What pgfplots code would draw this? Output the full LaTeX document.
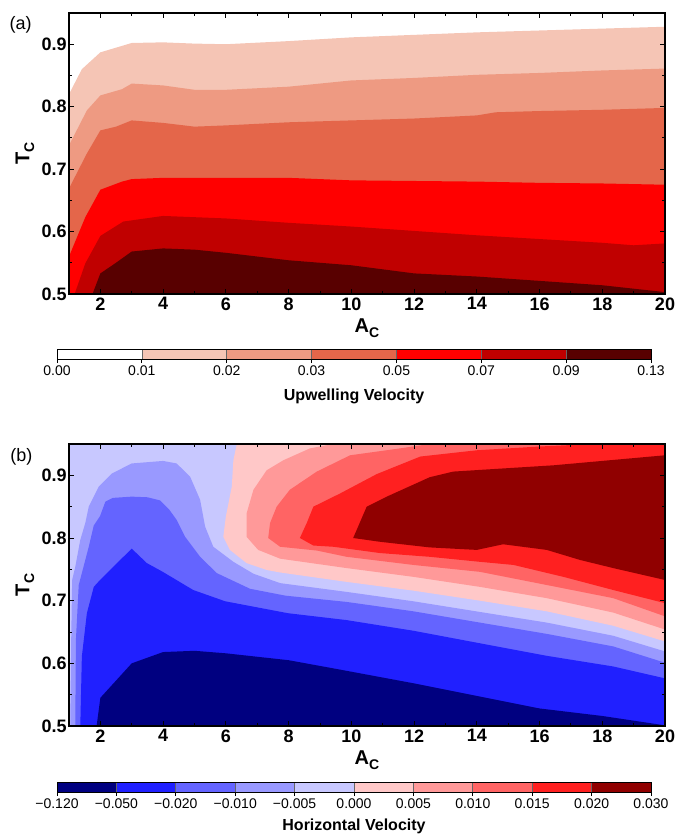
\documentclass[border=0pt]{standalone}
\usepackage{fontspec}
\setmainfont{Liberation Sans}
\usepackage{pgfplots}
\pgfplotsset{compat=1.18}

% upwelling velocity levels
\definecolor{ua0}{HTML}{FFFFFF}
\definecolor{ua1}{HTML}{F5C5B5}
\definecolor{ua2}{HTML}{EE9A82}
\definecolor{ua3}{HTML}{E4664A}
\definecolor{ua4}{HTML}{FF0000}
\definecolor{ua5}{HTML}{C00000}
\definecolor{ua6}{HTML}{580000}
% horizontal velocity levels
\definecolor{hb1}{HTML}{000080}
\definecolor{hb2}{HTML}{2020FF}
\definecolor{hb3}{HTML}{6464FF}
\definecolor{hb4}{HTML}{9999FF}
\definecolor{hb5}{HTML}{C8C8FF}
\definecolor{hr1}{HTML}{FFC8C8}
\definecolor{hr2}{HTML}{FF9999}
\definecolor{hr3}{HTML}{FF6464}
\definecolor{hr4}{HTML}{FF2020}
\definecolor{hr5}{HTML}{900000}

\pgfplotsset{
  contourpanel/.style={
    anchor=north west, scale only axis, width=447pt,
    xmin=1, xmax=20, ymin=0.5, ymax=0.95,
    xtick={2,4,...,20}, minor xtick={1,3,...,19},
    ytick={0.5,0.6,0.7,0.8,0.9}, minor ytick={0.55,0.65,0.75,0.85},
    tick align=inside, major tick length=4pt, minor tick length=2.5pt,
    tick style={black, line width=0.6pt},
    axis on top, axis line style={line width=0.9pt},
    tick label style={font=\fontsize{13.5}{15}\selectfont\bfseries},
    /pgf/number format/assume math mode=true,
    yticklabel style={inner xsep=1.5pt, /pgf/number format/fixed, /pgf/number format/precision=1},
    xticklabel style={inner ysep=2.5pt},
    xlabel={A\raisebox{-0.45ex}{\fontsize{10.5}{10}\selectfont C}},
    xlabel style={font=\fontsize{15}{16}\selectfont\bfseries,
      at={(axis description cs:0.5,0)}, anchor=center, yshift=-25.5pt},
    ylabel={T\raisebox{-0.45ex}{\fontsize{10.5}{10}\selectfont C}},
    ylabel style={font=\fontsize{15}{16}\selectfont\bfseries,
      at={(axis description cs:-0.074,0.5)}, anchor=center},
  },
  region/.style={draw=none, fill=#1, forget plot},
  colorbarbox/.style={
    anchor=north west, scale only axis, width=445.5pt, height=7.5pt,
    xmin=0, ymin=0, ymax=1, ytick=\empty,
    xtick pos=left, tick align=outside, major tick length=3pt,
    tick style={black, line width=0.6pt},
    xmajorgrids, grid style={black!60, line width=0.5pt},
    axis on top, axis line style={line width=0.7pt},
    xticklabel style={font=\fontsize{10.5}{12}\selectfont, inner ysep=1.5pt},
    xlabel style={font=\fontsize{12}{14}\selectfont\bfseries,
      at={(axis description cs:0.5,0)}, anchor=center, yshift=-28pt},
  },
}

\begin{document}
\begin{tikzpicture}
\useasboundingbox (0,0) rectangle (507.75pt,-629.25pt);

% ---------------- (a) upwelling velocity ----------------
\begin{axis}[contourpanel, at={(51.75pt,-9.75pt)}, height=210.75pt]
\addplot[region=ua1] coordinates {(1,0.820)(1.41,0.860)(2.0,0.887)(3.0,0.902)(4.0,0.903)(5,0.901)(6,0.900)(8,0.905)(10,0.911)(12,0.915)(14,0.919)(16,0.922)(18,0.925)(20,0.928)(20,0.5)(1,0.5)} --cycle;
\addplot[region=ua2] coordinates {(1,0.738)(1.57,0.794)(2.0,0.818)(2.69,0.828)(3,0.837)(4,0.834)(5,0.827)(6,0.827)(8,0.832)(10,0.842)(12,0.846)(14,0.851)(16,0.854)(18,0.858)(20,0.861)(20,0.5)(1,0.5)} --cycle;
\addplot[region=ua3] coordinates {(1,0.669)(1.57,0.725)(2.0,0.762)(2.5,0.768)(3,0.778)(4,0.774)(5,0.768)(6,0.770)(8,0.775)(10,0.778)(12,0.781)(14,0.786)(14.6,0.791)(16,0.793)(18,0.795)(20,0.798)(20,0.5)(1,0.5)} --cycle;
\addplot[region=ua4] coordinates {(1,0.560)(1.52,0.623)(2,0.667)(2.69,0.680)(3,0.684)(4,0.686)(6,0.686)(8,0.686)(10,0.682)(12,0.681)(14,0.680)(16,0.678)(18,0.677)(20,0.675)(20,0.5)(1,0.5)} --cycle;
\addplot[region=ua5] coordinates {(1.18,0.5)(1.52,0.549)(2,0.593)(2.73,0.616)(4,0.625)(6,0.621)(8,0.614)(10,0.608)(12,0.601)(14,0.594)(16,0.588)(18,0.582)(19,0.578)(20,0.581)(20,0.5)} --cycle;
\addplot[region=ua6] coordinates {(1.75,0.5)(2.0,0.533)(2.47,0.549)(3,0.568)(4,0.573)(5,0.571)(6,0.566)(8,0.554)(10,0.546)(12,0.533)(14,0.528)(16,0.521)(18,0.514)(20,0.503)(20,0.5)} --cycle;
\end{axis}
\node[font=\fontsize{13.5}{15}\selectfont] at (15.4pt,-18.75pt) {(a)};

\begin{axis}[colorbarbox, at={(42.75pt,-261.75pt)}, xmax=7,
  xtick={0,...,7},
  xticklabels={0.00,0.01,0.02,0.03,0.05,0.07,0.09,0.13},
  xlabel={Upwelling Velocity}]
\addplot[region=ua0] coordinates {(0,0)(1,0)(1,1)(0,1)} --cycle;
\addplot[region=ua1] coordinates {(1,0)(2,0)(2,1)(1,1)} --cycle;
\addplot[region=ua2] coordinates {(2,0)(3,0)(3,1)(2,1)} --cycle;
\addplot[region=ua3] coordinates {(3,0)(4,0)(4,1)(3,1)} --cycle;
\addplot[region=ua4] coordinates {(4,0)(5,0)(5,1)(4,1)} --cycle;
\addplot[region=ua5] coordinates {(5,0)(6,0)(6,1)(5,1)} --cycle;
\addplot[region=ua6] coordinates {(6,0)(7,0)(7,1)(6,1)} --cycle;
\end{axis}

% ---------------- (b) horizontal velocity ----------------
\begin{axis}[contourpanel, at={(51.75pt,-333pt)}, height=211.5pt]
\addplot[region=hb5] coordinates {(1,0.5)(20,0.5)(20,0.95)(1,0.95)} --cycle;
\addplot[region=hb4] coordinates {(1.04,0.5)(1.07,0.637)(1.1,0.733)(1.2,0.754)(1.36,0.797)(1.52,0.824)(1.63,0.850)(1.95,0.882)(2.37,0.903)(3.0,0.919)(4.0,0.923)(4.43,0.919)(4.86,0.898)(5.18,0.861)(5.34,0.818)(5.6,0.786)(6.24,0.762)(6.88,0.743)(7.73,0.728)(9.85,0.714)(11.98,0.699)(14.1,0.682)(16.23,0.665)(18.35,0.644)(20,0.619)(20,0.5)} --cycle;
\addplot[region=hb3] coordinates {(1.2,0.5)(1.22,0.637)(1.31,0.725)(1.41,0.744)(1.63,0.786)(1.79,0.820)(1.99,0.835)(2.16,0.858)(2.4,0.864)(3.0,0.866)(3.5,0.865)(3.9,0.860)(4.2,0.845)(4.43,0.829)(4.7,0.802)(5.18,0.770)(5.71,0.744)(6.77,0.719)(7.9,0.708)(9.85,0.698)(11.98,0.683)(14.1,0.665)(16.23,0.647)(18.35,0.627)(20,0.601)(20,0.5)} --cycle;
\addplot[region=hb2] coordinates {(1.36,0.5)(1.41,0.611)(1.57,0.680)(1.79,0.722)(1.99,0.733)(2.41,0.754)(3.0,0.783)(3.48,0.760)(3.99,0.746)(4.96,0.717)(5.98,0.699)(7.98,0.680)(9.85,0.669)(11.98,0.652)(14.1,0.632)(16.23,0.612)(18.35,0.595)(20,0.576)(20,0.5)} --cycle;
\addplot[region=hb1] coordinates {(1.88,0.5)(2.0,0.545)(3.0,0.600)(4.0,0.618)(5.0,0.620)(6.0,0.616)(8.0,0.605)(9.64,0.590)(12,0.568)(14,0.548)(16,0.528)(18,0.516)(20,0.501)(20,0.5)} --cycle;
\addplot[region=hr1] coordinates {(6.35,0.95)(6.24,0.924)(6.19,0.882)(6.0,0.834)(5.92,0.802)(6.13,0.781)(6.66,0.760)(7.3,0.749)(7.73,0.745)(9.85,0.730)(11.98,0.716)(14.1,0.700)(16.23,0.683)(18.35,0.660)(20,0.635)(20,0.95)} --cycle;
\addplot[region=hr2] coordinates {(9.42,0.95)(8.68,0.943)(7.83,0.924)(7.30,0.908)(6.88,0.877)(6.66,0.839)(6.66,0.802)(7.03,0.781)(7.73,0.767)(9.85,0.752)(11.98,0.738)(14.1,0.722)(16.23,0.704)(18.35,0.681)(20,0.654)(20,0.95)} --cycle;
\addplot[region=hr3] coordinates {(12.5,0.95)(11.55,0.943)(9.96,0.932)(8.9,0.906)(8.04,0.877)(7.62,0.850)(7.41,0.824)(7.35,0.800)(7.73,0.786)(8.9,0.780)(9.85,0.770)(11.98,0.757)(14.1,0.746)(16.23,0.725)(18.35,0.704)(20,0.675)(20,0.95)} --cycle;
\addplot[region=hr4] coordinates {(17.7,0.95)(16,0.946)(14,0.940)(12.2,0.930)(10.81,0.902)(9.64,0.871)(8.79,0.850)(8.58,0.824)(8.36,0.800)(8.79,0.788)(9.43,0.786)(10.91,0.776)(12.5,0.770)(14.1,0.762)(15.17,0.757)(16.76,0.738)(18.35,0.717)(20,0.696)(20,0.95)} --cycle;
\addplot[region=hr5] coordinates {(10.06,0.800)(10.49,0.850)(11.13,0.866)(12.5,0.897)(13.25,0.906)(16.44,0.916)(20,0.932)(20,0.733)(18.35,0.752)(17.29,0.765)(16.23,0.781)(14.84,0.790)(14.0,0.781)(12.5,0.785)(10.91,0.794)} --cycle;
\end{axis}
\node[font=\fontsize{13.5}{15}\selectfont] at (16.1pt,-342.4pt) {(b)};

\begin{axis}[colorbarbox, at={(42.75pt,-586.5pt)}, xmax=10,
  xtick={0,...,10},
  xticklabels={−0.120,−0.050,−0.020,−0.010,−0.005,0.000,0.005,0.010,0.015,0.020,0.030},
  xlabel={Horizontal Velocity},
  xlabel style={yshift=2.5pt}]
\addplot[region=hb1] coordinates {(0,0)(1,0)(1,1)(0,1)} --cycle;
\addplot[region=hb2] coordinates {(1,0)(2,0)(2,1)(1,1)} --cycle;
\addplot[region=hb3] coordinates {(2,0)(3,0)(3,1)(2,1)} --cycle;
\addplot[region=hb4] coordinates {(3,0)(4,0)(4,1)(3,1)} --cycle;
\addplot[region=hb5] coordinates {(4,0)(5,0)(5,1)(4,1)} --cycle;
\addplot[region=hr1] coordinates {(5,0)(6,0)(6,1)(5,1)} --cycle;
\addplot[region=hr2] coordinates {(6,0)(7,0)(7,1)(6,1)} --cycle;
\addplot[region=hr3] coordinates {(7,0)(8,0)(8,1)(7,1)} --cycle;
\addplot[region=hr4] coordinates {(8,0)(9,0)(9,1)(8,1)} --cycle;
\addplot[region=hr5] coordinates {(9,0)(10,0)(10,1)(9,1)} --cycle;
\end{axis}
\end{tikzpicture}
\end{document}
